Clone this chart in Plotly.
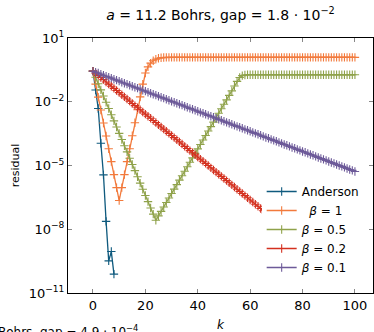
import plotly.graph_objects as go

# ---- data (log10 of residual) ----
anderson_k = [0, 1, 2, 3, 4, 5, 6, 7, 8]
anderson_log10 = [-0.56, -1.45, -2.32, -3.95, -5.44, -7.63, -9.49, -9.05, -10.11]

beta1_log10 = [-0.56, -1.17, -1.78, -2.39, -3.00, -3.61, -4.21, -4.82, -5.43, -6.04,
               -6.65, -6.04, -5.43, -4.82, -4.21, -3.60, -2.99, -2.38, -1.77, -1.17,
               -0.65, -0.36, -0.18, -0.07, 0.00, 0.05, 0.07, 0.08, 0.09, 0.09,
               0.09, 0.09, 0.09, 0.09, 0.09, 0.09, 0.09, 0.09, 0.09, 0.09,
               0.09, 0.09, 0.09, 0.09, 0.09, 0.09, 0.09, 0.09, 0.09, 0.09,
               0.09, 0.09, 0.09, 0.09, 0.09, 0.09, 0.09, 0.09, 0.09, 0.09,
               0.09, 0.09, 0.09, 0.09, 0.09, 0.09, 0.09, 0.09, 0.09, 0.09,
               0.09, 0.09, 0.09, 0.09, 0.09, 0.09, 0.09, 0.09, 0.09, 0.09,
               0.09, 0.09, 0.09, 0.09, 0.09, 0.09, 0.09, 0.09, 0.09, 0.09,
               0.09, 0.09, 0.09, 0.09, 0.09, 0.09, 0.09, 0.09, 0.09, 0.09,
               0.09]

beta05_log10 = [-0.56, -0.85, -1.15, -1.44, -1.73, -2.02, -2.32, -2.61, -2.90, -3.19,
                -3.49, -3.78, -4.07, -4.36, -4.66, -4.95, -5.24, -5.53, -5.83, -6.12,
                -6.41, -6.70, -7.00, -7.29, -7.58, -7.37, -7.16, -6.95, -6.74, -6.53,
                -6.32, -6.11, -5.90, -5.69, -5.48, -5.27, -5.06, -4.85, -4.64, -4.43,
                -4.22, -4.01, -3.80, -3.59, -3.38, -3.17, -2.96, -2.75, -2.54, -2.33,
                -2.12, -1.91, -1.70, -1.49, -1.26, -1.04, -0.86, -0.77, -0.74, -0.73,
                -0.73, -0.73, -0.73, -0.73, -0.73, -0.73, -0.73, -0.73, -0.73, -0.73,
                -0.73, -0.73, -0.73, -0.73, -0.73, -0.73, -0.73, -0.73, -0.73, -0.73,
                -0.73, -0.73, -0.73, -0.73, -0.73, -0.73, -0.73, -0.73, -0.73, -0.73,
                -0.73, -0.73, -0.73, -0.73, -0.73, -0.73, -0.73, -0.73, -0.73, -0.73,
                -0.73]

beta02_log10 = [-0.56, -0.66, -0.76, -0.86, -0.96, -1.07, -1.17, -1.27, -1.37, -1.47,
                -1.57, -1.67, -1.77, -1.87, -1.97, -2.08, -2.18, -2.28, -2.38, -2.48,
                -2.58, -2.68, -2.78, -2.88, -2.98, -3.09, -3.19, -3.29, -3.39, -3.49,
                -3.59, -3.69, -3.79, -3.89, -3.99, -4.10, -4.20, -4.30, -4.40, -4.50,
                -4.60, -4.70, -4.80, -4.90, -5.00, -5.11, -5.21, -5.31, -5.41, -5.51,
                -5.61, -5.71, -5.81, -5.91, -6.01, -6.12, -6.22, -6.32, -6.42, -6.52,
                -6.62, -6.72, -6.82, -6.92, -7.02, -7.13, -7.23, -7.33, -7.43, -7.53,
                -7.63, -7.73, -7.83, -7.93, -8.03, -8.14, -8.24, -8.34, -8.44, -8.54,
                -8.64, -8.74, -8.84, -8.94, -9.04, -9.15, -9.25, -9.35, -9.45, -9.55,
                -9.65, -9.75, -9.85, -9.95, -10.05]

beta01_log10 = [-0.56, -0.61, -0.65, -0.70, -0.75, -0.80, -0.84, -0.89, -0.94, -0.98,
                -1.03, -1.08, -1.13, -1.17, -1.22, -1.27, -1.32, -1.36, -1.41, -1.46,
                -1.50, -1.55, -1.60, -1.65, -1.69, -1.74, -1.79, -1.83, -1.88, -1.93,
                -1.98, -2.02, -2.07, -2.12, -2.16, -2.21, -2.26, -2.31, -2.35, -2.40,
                -2.45, -2.50, -2.54, -2.59, -2.64, -2.68, -2.73, -2.78, -2.83, -2.87,
                -2.92, -2.97, -3.01, -3.06, -3.11, -3.16, -3.20, -3.25, -3.30, -3.34,
                -3.39, -3.44, -3.49, -3.53, -3.58, -3.63, -3.68, -3.72, -3.77, -3.82,
                -3.86, -3.91, -3.96, -4.01, -4.05, -4.10, -4.15, -4.19, -4.24, -4.29,
                -4.34, -4.38, -4.43, -4.48, -4.52, -4.57, -4.62, -4.67, -4.71, -4.76,
                -4.81, -4.86, -4.90, -4.95, -5.00, -5.04, -5.09, -5.14, -5.19, -5.23,
                -5.28]

series_names = ["Anderson", "\u00a0\u00a0<i>β</i> = 1", "<i>β</i> = 0.5",
                "<i>β</i> = 0.2", "<i>β</i> = 0.1"]
series_colors = ["#0f5a7e", "#f27a3c", "#8fa24a", "#d4301f", "#6d5a99"]

x_tickvals = [0, 20, 40, 60, 80, 100]
y_tickvals = [1e-11, 1e-8, 1e-5, 1e-2, 1e1]
y_ticktext = ["10<sup>−11</sup>", "10<sup>−8</sup>", "10<sup>−5</sup>",
              "10<sup>−2</sup>", "10<sup>1</sup>"]

FONT = "DejaVu Sans"

fig = go.Figure()
all_series = [
    (anderson_k, anderson_log10),
    (list(range(len(beta1_log10))), beta1_log10),
    (list(range(len(beta05_log10))), beta05_log10),
    (list(range(len(beta02_log10))), beta02_log10),
    (list(range(len(beta01_log10))), beta01_log10),
]
for (ks, logs), name, col in zip(all_series, series_names, series_colors):
    fig.add_trace(go.Scatter(
        x=ks, y=[10 ** v for v in logs], name=name, mode="lines+markers",
        line=dict(color=col, width=1.3),
        marker=dict(symbol="cross-thin", size=6, line=dict(color=col, width=1.1)),
    ))

fig.update_layout(
    width=374, height=332,
    margin=dict(l=68, r=1, t=38, b=39, autoexpand=False),
    paper_bgcolor="white", plot_bgcolor="white",
    font=dict(family=FONT, size=13, color="black"),
    title=dict(text="<i>a</i> = 11.2 Bohrs, gap = 1.8 · 10<sup>−2</sup>",
               x=0.5, xref="paper", xanchor="center",
               y=1 - 15 / 332, yref="container", yanchor="middle",
               font=dict(family=FONT, size=14)),
    showlegend=True,
    legend=dict(x=0.635, y=0.455, xanchor="left", yanchor="top",
                bgcolor="white", borderwidth=0, font=dict(family=FONT, size=12),
                tracegroupgap=0),
)
fig.update_xaxes(
    range=[-9.54, 106.9], tickvals=x_tickvals, automargin=False,
    showline=True, linecolor="black", linewidth=1, mirror="ticks",
    ticks="inside", ticklen=4, tickcolor="#888", tickwidth=1,
    showgrid=False, zeroline=False,
    title=dict(text="<i>k</i>", standoff=10, font=dict(size=12)),
)
fig.update_yaxes(
    type="log", range=[-11, 1], tickvals=y_tickvals, ticktext=y_ticktext,
    automargin=False,
    showline=True, linecolor="black", linewidth=1, mirror="ticks",
    ticks="inside", ticklen=4, tickcolor="#888", tickwidth=1,
    showgrid=False, zeroline=False,
    title=dict(text="residual", standoff=6, font=dict(size=11)),
)
fig.add_annotation(
    text="Bohrs, gap = 4.9 · 10<sup>−4</sup>", xref="paper", yref="paper",
    x=(140 - 68) / 305, y=-(321 - 293) / 255, xanchor="right", yanchor="top",
    showarrow=False, font=dict(family=FONT, size=12),
)

fig.write_html("out.html", config={"displayModeBar": False},
               post_script="document.body.style.margin='0';document.body.style.padding='0';")
